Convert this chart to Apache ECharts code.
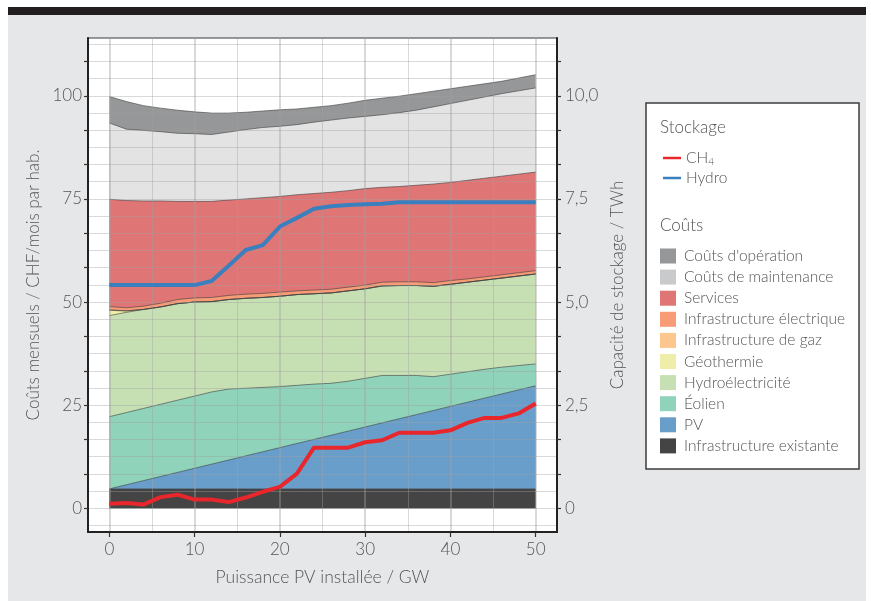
<!DOCTYPE html>
<html>
<head>
<meta charset="utf-8">
<script src="https://cdn.jsdelivr.net/npm/echarts@6/dist/echarts.min.js"></script>
<style>
  html, body { margin: 0; padding: 0; background: #ffffff; }
  #frame {
    position: absolute; left: 8px; top: 7px; width: 858px; height: 586px;
    background: #e6e7e9; border-top: 8px solid #221e1f;
  }
  #chart { position: absolute; left: 0; top: 0; width: 871px; height: 601px; }
</style>
</head>
<body>
<div id="frame"></div>
<div id="chart"></div>
<script>
// Installed PV capacity (GW)
const gw = [0, 2, 4, 6, 8, 10, 12, 14, 16, 18, 20, 22, 24, 26, 28, 30, 32, 34, 36, 38, 40, 42, 44, 46, 48, 50];

// Monthly costs per inhabitant (CHF), one array per cost component (stacked bottom → top)
const infraExistante = [4.7, 4.7, 4.7, 4.7, 4.7, 4.7, 4.7, 4.7, 4.7, 4.7, 4.7, 4.7, 4.7, 4.7, 4.7, 4.7, 4.7, 4.7, 4.7, 4.7, 4.7, 4.7, 4.7, 4.7, 4.7, 4.7];
const pv = [0, 1, 2, 3, 4, 5, 6, 7, 8, 9, 10, 11, 12, 13, 14, 15, 16, 17, 18, 19, 20, 21, 22, 23, 24, 25];
const eolien = [17.5, 17.5, 17.5, 17.5, 17.5, 17.5, 17.5, 17.2, 16.4, 15.6, 14.8, 14.1, 13.4, 12.6, 12.1, 11.8, 11.5, 10.5, 9.5, 8.2, 7.8, 7.4, 7.0, 6.5, 5.9, 5.3];
const hydroelec = [24.5, 24.3, 24.0, 23.6, 23.4, 22.8, 21.9, 21.7, 21.8, 21.8, 21.9, 22.0, 21.9, 21.9, 21.9, 21.7, 21.7, 21.8, 21.8, 21.9, 21.8, 21.7, 21.6, 21.6, 21.7, 21.8];
const geothermie = [1.3, 0.3, 0, 0, 0, 0, 0, 0, 0, 0, 0, 0, 0, 0, 0, 0, 0, 0, 0, 0, 0, 0, 0, 0, 0, 0];
const infraGaz = [0.1, 0.1, 0, 0, 0, 0, 0, 0, 0, 0, 0, 0, 0, 0, 0, 0, 0, 0, 0, 0, 0, 0, 0, 0, 0, 0];
const infraElec = [0.8, 0.7, 0.8, 0.9, 1.0, 1.0, 1.0, 1.0, 1.0, 1.0, 1.0, 0.9, 0.9, 0.9, 0.9, 0.9, 0.9, 0.9, 0.9, 0.9, 0.9, 0.8, 0.8, 0.8, 0.8, 0.8];
const services = [26.0, 26.0, 25.5, 24.8, 23.8, 23.4, 23.3, 23.1, 23.1, 23.2, 23.2, 23.3, 23.4, 23.5, 23.4, 23.4, 23.0, 23.1, 23.4, 23.9, 23.8, 23.9, 23.9, 23.9, 23.9, 23.9];
const maintenance = [18.5, 17.3, 17.1, 16.8, 16.5, 16.4, 16.2, 16.5, 16.8, 17.0, 17.0, 17.0, 17.3, 17.5, 17.6, 17.5, 17.6, 17.9, 18.2, 18.7, 19.1, 19.4, 19.7, 20.0, 20.2, 20.4];
const operation = [6.4, 6.7, 6.0, 5.7, 5.6, 5.3, 5.2, 4.6, 4.2, 4.0, 4.0, 3.8, 3.6, 3.5, 3.6, 3.9, 4.0, 4.0, 4.0, 3.8, 3.6, 3.4, 3.2, 3.0, 3.1, 3.2];

// Storage capacity (TWh)
const stockageCH4 = [0.11, 0.13, 0.09, 0.27, 0.33, 0.21, 0.21, 0.15, 0.26, 0.40, 0.52, 0.84, 1.47, 1.47, 1.47, 1.60, 1.65, 1.83, 1.83, 1.83, 1.89, 2.07, 2.19, 2.19, 2.30, 2.54];
const stockageHydro = [5.41, 5.41, 5.41, 5.41, 5.41, 5.41, 5.51, 5.88, 6.26, 6.38, 6.83, 7.04, 7.26, 7.32, 7.35, 7.37, 7.38, 7.42, 7.42, 7.42, 7.42, 7.42, 7.42, 7.42, 7.42, 7.42];

// Tick labels
const gwTicks = [0, 10, 20, 30, 40, 50];
const costTicks = [0, 25, 50, 75, 100];
const storageTicks = [0, 2.5, 5, 7.5, 10];

const FONT = 'Lato';
const TXT = '#555555';

// Axis extents and tick / grid positions
const costMin = -5.75, costMax = 114;
const costTickMarks = [];
for (let k = 0; k <= 13; k++) costTickMarks.push(k * 25 / 3);
const costGrid = [];
for (let k = -1; k <= 27; k++) costGrid.push(k * 25 / 6);
const storageTickMarks = costTickMarks.map(v => v / 10);
const gwMinor = [5, 15, 25, 35, 45];

const gridLineColor = 'rgba(160,160,160,0.4)';

const costLayers = [
  { name: 'Infrastructure existante', values: infraExistante, color: '#444444' },
  { name: 'PV', values: pv, color: '#699ecb' },
  { name: 'Éolien', values: eolien, color: '#8fd3ba' },
  { name: 'Hydroélectricité', values: hydroelec, color: '#c6e0b4' },
  { name: 'Géothermie', values: geothermie, color: '#eeeeaa' },
  { name: 'Infrastructure de gaz', values: infraGaz, color: '#fdc68e' },
  { name: 'Infrastructure électrique', values: infraElec, color: '#f89b77' },
  { name: 'Services', values: services, color: '#e07575' },
  { name: 'Coûts de maintenance', values: maintenance, color: '#e3e3e4', legendColor: '#c9cacc' },
  { name: "Coûts d'opération", values: operation, color: '#969798' }
];

// Running totals: each layer is drawn as its cumulative top, filled down to zero;
// layers are painted from the top one down so lower layers cover the fill below them.
let running = gw.map(() => 0);
const layerTops = costLayers.map(l => {
  running = running.map((r, i) => r + l.values[i]);
  return running.slice();
});

const series = [];
for (let j = costLayers.length - 1; j >= 0; j--) {
  const l = costLayers[j];
  series.push({
    name: l.name,
    type: 'line',
    xAxisIndex: 0,
    yAxisIndex: 0,
    data: gw.map((x, i) => [x, layerTops[j][i]]),
    symbol: 'none',
    showSymbol: false,
    lineStyle: { width: 0.7, color: 'rgba(60,60,60,0.85)' },
    areaStyle: { color: l.color, opacity: 1 },
    itemStyle: { color: l.color },
    emphasis: { disabled: true },
    silent: true,
    z: 2
  });
}

series.push({
  name: 'CH4', type: 'line', xAxisIndex: 0, yAxisIndex: 1,
  data: gw.map((x, i) => [x, stockageCH4[i]]),
  symbol: 'none', showSymbol: false,
  lineStyle: { width: 4, color: '#e8262b', join: 'round' },
  itemStyle: { color: '#e8262b' },
  emphasis: { disabled: true }, silent: true, z: 6
});
series.push({
  name: 'Hydro', type: 'line', xAxisIndex: 0, yAxisIndex: 1,
  data: gw.map((x, i) => [x, stockageHydro[i]]),
  symbol: 'none', showSymbol: false,
  lineStyle: { width: 4, color: '#3a80bf', join: 'round' },
  itemStyle: { color: '#3a80bf' },
  emphasis: { disabled: true }, silent: true, z: 6
});

const hiddenAxisParts = {
  axisLine: { show: false },
  axisTick: { show: false },
  axisLabel: { show: false }
};

const option = {
  backgroundColor: 'transparent',
  animation: false,
  textStyle: { fontFamily: FONT },
  grid: {
    left: 88, right: 314, top: 38, bottom: 69,
    show: true, backgroundColor: '#ffffff',
    borderColor: '#3a3a3a', borderWidth: 1.2
  },
  xAxis: [
    {
      type: 'value', min: -2.5, max: 52.5, position: 'bottom', z: 3,
      name: 'Puissance PV installée / GW', nameLocation: 'middle', nameGap: 36,
      nameTextStyle: { fontFamily: FONT, fontWeight: 300, fontSize: 17.5, color: TXT },
      axisLine: { show: true, onZero: false, lineStyle: { color: '#222', width: 2 } },
      axisTick: { show: true, customValues: gwTicks, length: 5, lineStyle: { color: '#333', width: 1.2 } },
      axisLabel: { customValues: gwTicks, fontFamily: FONT, fontWeight: 300, fontSize: 17, color: TXT, margin: 9 },
      splitLine: { show: true, lineStyle: { color: gridLineColor, width: 2 } }
    },
    Object.assign({
      type: 'value', min: -2.5, max: 52.5, position: 'top', z: 3,
      splitLine: { show: true, lineStyle: { color: gridLineColor, width: 1 } }
    }, hiddenAxisParts, { axisTick: { show: false, customValues: gwMinor } })
  ],
  yAxis: [
    {
      type: 'value', min: costMin, max: costMax, position: 'left', z: 3,
      name: 'Coûts mensuels / CHF/mois par hab.', nameLocation: 'middle', nameGap: 38,
      nameTextStyle: { fontFamily: FONT, fontWeight: 300, fontSize: 17, color: TXT },
      axisLine: { show: true, onZero: false, lineStyle: { color: '#222', width: 2 } },
      axisTick: { show: true, customValues: costTickMarks, length: 4, lineStyle: { color: '#333', width: 1.2 } },
      axisLabel: { customValues: costTicks, fontFamily: FONT, fontWeight: 300, fontSize: 17, color: TXT, margin: 6 },
      splitLine: { show: false }
    },
    {
      type: 'value', min: costMin / 10, max: costMax / 10, position: 'right', z: 3,
      name: 'Capacité de stockage / TWh', nameLocation: 'middle', nameGap: 45,
      nameTextStyle: { fontFamily: FONT, fontWeight: 300, fontSize: 17, color: TXT },
      axisLine: { show: true, onZero: false, lineStyle: { color: '#222', width: 2 } },
      axisTick: { show: true, customValues: storageTickMarks, length: 4, lineStyle: { color: '#333', width: 1.2 } },
      axisLabel: {
        customValues: storageTicks, fontFamily: FONT, fontWeight: 300, fontSize: 17, color: TXT, margin: 8,
        formatter: v => (v === 0 ? '0' : v.toFixed(1).replace('.', ','))
      },
      splitLine: { show: false }
    },
    Object.assign({
      type: 'value', min: costMin, max: costMax, position: 'left', z: 3,
      splitLine: { show: true, lineStyle: { color: gridLineColor, width: 1 } }
    }, hiddenAxisParts, { axisTick: { show: false, customValues: costGrid } })
  ],
  graphic: [
    {
      type: 'rect', x: 646, y: 103, z: 0,
      shape: { width: 213, height: 366 },
      style: { fill: '#ffffff', stroke: '#3d3d3d', lineWidth: 1.5 }
    },
    {
      type: 'text', x: 660, y: 128, z: 1,
      style: { text: 'Stockage', fontFamily: FONT, fontWeight: 300, fontSize: 17, fill: TXT, verticalAlign: 'middle' }
    },
    {
      type: 'text', x: 660, y: 226, z: 1,
      style: { text: 'Coûts', fontFamily: FONT, fontWeight: 300, fontSize: 17, fill: TXT, verticalAlign: 'middle' }
    }
  ],
  legend: [
    {
      orient: 'vertical', left: 658, top: 144, z: 5,
      selectedMode: false,
      data: ['CH4', 'Hydro'],
      icon: 'rect', itemWidth: 18, itemHeight: 2.5, itemGap: 2,
      itemStyle: { borderWidth: 0 },
      formatter: n => (n === 'CH4' ? 'CH{s|4}' : n),
      textStyle: {
        fontFamily: FONT, fontWeight: 300, fontSize: 15.5, color: TXT, lineHeight: 18,
        rich: { s: { fontFamily: FONT, fontWeight: 300, fontSize: 10, color: TXT, lineHeight: 10, verticalAlign: 'bottom' } }
      }
    },
    {
      orient: 'vertical', left: 655, top: 243, z: 5,
      selectedMode: false,
      data: costLayers.slice().reverse().map(l => ({
        name: l.name,
        itemStyle: { color: l.legendColor || l.color, borderWidth: 0 }
      })),
      icon: 'rect', itemWidth: 16, itemHeight: 15, itemGap: 5.1,
      itemStyle: { borderWidth: 0 },
      textStyle: { fontFamily: FONT, fontWeight: 300, fontSize: 15.5, color: TXT, lineHeight: 15, padding: [0, 0, 0, 3] }
    }
  ],
  series: series
};

const chart = echarts.init(document.getElementById('chart'), null, { renderer: 'canvas' });
chart.setOption(option);
</script>
</body>
</html>
